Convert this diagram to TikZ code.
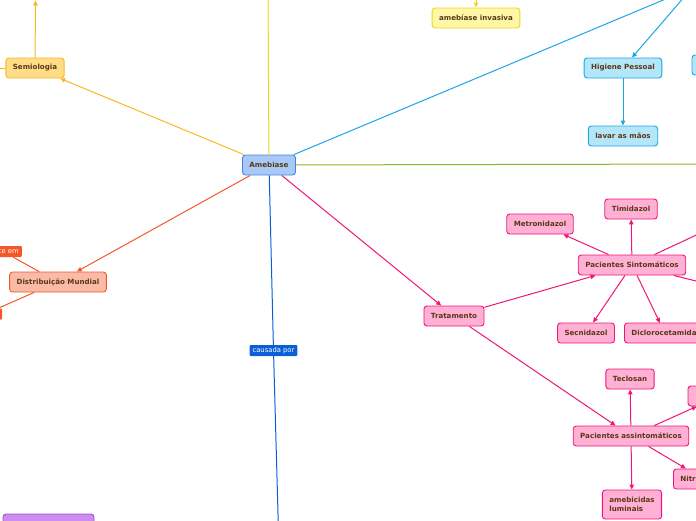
\documentclass[tikz,border=0pt]{standalone}
\usepackage{fontspec}
\setmainfont{DejaVu Sans}
\usetikzlibrary{arrows.meta}
\definecolor{txtbrown}{HTML}{5A3816}
\definecolor{amebfill}{HTML}{A8C9F8}
\definecolor{amebline}{HTML}{4682E0}
\definecolor{semifill}{HTML}{FFDC88}
\definecolor{semiline}{HTML}{F9B820}
\definecolor{yelfill}{HTML}{FFF6A8}
\definecolor{yelline}{HTML}{EED61C}
\definecolor{cyanfill}{HTML}{B4E6FA}
\definecolor{cyanline}{HTML}{1CA6E6}
\definecolor{greenline}{HTML}{88B828}
\definecolor{redfill}{HTML}{F9BAA6}
\definecolor{redline}{HTML}{F4582A}
\definecolor{darkblue}{HTML}{0A5FD8}
\definecolor{pinkfill}{HTML}{FFB0D4}
\definecolor{pinkline}{HTML}{EE1678}
\definecolor{purpfill}{HTML}{CC8CF2}
\definecolor{purpline}{HTML}{9858C8}
\tikzset{
  topic/.style={draw, rounded corners=3pt, line width=0.9pt, text=txtbrown,
    font=\fontsize{7.1}{8.6}\selectfont\bfseries, minimum height=20pt, inner xsep=7pt},
  tag/.style={rounded corners=1pt, text=white, font=\fontsize{6.8}{7}\selectfont,
    minimum height=11pt, inner xsep=3pt, inner ysep=1pt},
  link/.style={line width=1pt},
  tip/.style={-{Triangle[length=5pt,width=4.5pt]}}
}
\begin{document}
\begin{tikzpicture}[x=1pt,y=-1pt]
\useasboundingbox (0,0) rectangle (696,520);
\clip (0,0) rectangle (696,520);
% centre
\node[topic, fill=amebfill, draw=amebline] (ameb) at (269,165) {Amebiase};
% semiologia
\node[topic, fill=semifill, draw=semiline] (semio) at (35,68) {Semiologia};
\coordinate (semitop) at (35.5,0.5);
\coordinate (semileft) at (-12,68);
\draw[link, tip, semiline] (ameb) -- (semio);
\draw[link, tip, semiline] (semio) -- (semitop);
\draw[link, semiline] (semio) -- (semileft);
% amarelo
\coordinate (yeltop) at (268,-12);
\node[topic, fill=yelfill, draw=yelline] (invas) at (476,18) {amebíase invasiva};
\coordinate (invtop) at (476,-12);
\draw[link, yelline] (ameb) -- (yeltop);
\draw[link, tip, yelline] (invtop) -- (invas);
% higiene
\coordinate (cyanhub) at (692,-12);
\node[topic, fill=cyanfill, draw=cyanline] (higi) at (623,68) {Higiene Pessoal};
\node[topic, fill=cyanfill, draw=cyanline] (lavar) at (623,136) {lavar as mãos};
\node[topic, fill=cyanfill, draw=cyanline, minimum width=56pt] (cyanbox) at (720,65) {};
\draw[link, cyanline] (ameb) -- (cyanhub);
\draw[link, tip, cyanline] (cyanhub) -- (higi);
\draw[link, tip, cyanline] (higi) -- (lavar);
% verde
\coordinate (greenend) at (720,164);
\draw[link, greenline] (ameb) -- (greenend);
% distribuicao
\node[topic, fill=redfill, draw=redline] (dist) at (58,282) {Distribuição Mundial};
\node[tag, fill=redline, anchor=east, text width=32pt, align=right] (cem) at (22,251.5) {ce em};
\node[tag, fill=redline, minimum width=34pt] (redtag) at (-15,314) {};
\draw[link, tip, redline] (ameb) -- (dist);
\draw[link, redline] (dist) -- (cem);
\draw[link, redline] (dist) -- (redtag);
% causada por
\node[tag, fill=darkblue] (causa) at (273.5,350.5) {causada por};
\coordinate (bluebot) at (278.5,532);
\draw[link, darkblue] (ameb) -- (causa) -- (bluebot);
% tratamento
\node[topic, fill=pinkfill, draw=pinkline] (trat) at (454,316) {Tratamento};
\node[topic, fill=pinkfill, draw=pinkline] (sinto) at (632,265) {Pacientes Sintomáticos};
\node[topic, fill=pinkfill, draw=pinkline] (metro) at (540,224) {Metronidazol};
\node[topic, fill=pinkfill, draw=pinkline] (timi) at (631,209) {Timidazol};
\node[topic, fill=pinkfill, draw=pinkline] (secni) at (586,333) {Secnidazol};
\node[topic, fill=pinkfill, draw=pinkline, anchor=west] (diclo) at (624,333) {Diclorocetamida};
\coordinate (sintoup) at (720,224);
\coordinate (sintodown) at (740,292);
\node[topic, fill=pinkfill, draw=pinkline] (assin) at (631,436) {Pacientes assintomáticos};
\node[topic, fill=pinkfill, draw=pinkline] (teclo) at (630,379) {Teclosan};
\node[topic, fill=pinkfill, draw=pinkline, minimum width=64pt] (pinkbox) at (720,396) {};
\node[topic, fill=pinkfill, draw=pinkline, anchor=west, text width=46pt, align=left] (nitr) at (673,479) {Nitr};
\node[topic, fill=pinkfill, draw=pinkline, align=left, minimum height=29pt] (lumin) at (632,504.5) {amebicidas\\luminais};
\draw[link, tip, pinkline] (ameb) -- (trat);
\draw[link, tip, pinkline] (trat) -- (sinto);
\draw[link, tip, pinkline] (sinto) -- (metro);
\draw[link, tip, pinkline] (sinto) -- (timi);
\draw[link, tip, pinkline] (sinto) -- (secni);
\draw[link, tip, pinkline] (sinto) -- (660,323);
\draw[link, tip, pinkline] (sinto) -- (sintoup);
\draw[link, tip, pinkline] (sinto) -- (sintodown);
\draw[link, tip, pinkline] (trat) -- (assin);
\draw[link, tip, pinkline] (assin) -- (teclo);
\draw[link, tip, pinkline] (assin) -- (pinkbox);
\draw[link, tip, pinkline] (assin) -- (nitr);
\draw[link, tip, pinkline] (assin) -- (lumin);
% roxo
\node[topic, fill=purpfill, draw=purpline, minimum width=91pt] (purp) at (48.5,524) {};
\end{tikzpicture}
\end{document}
